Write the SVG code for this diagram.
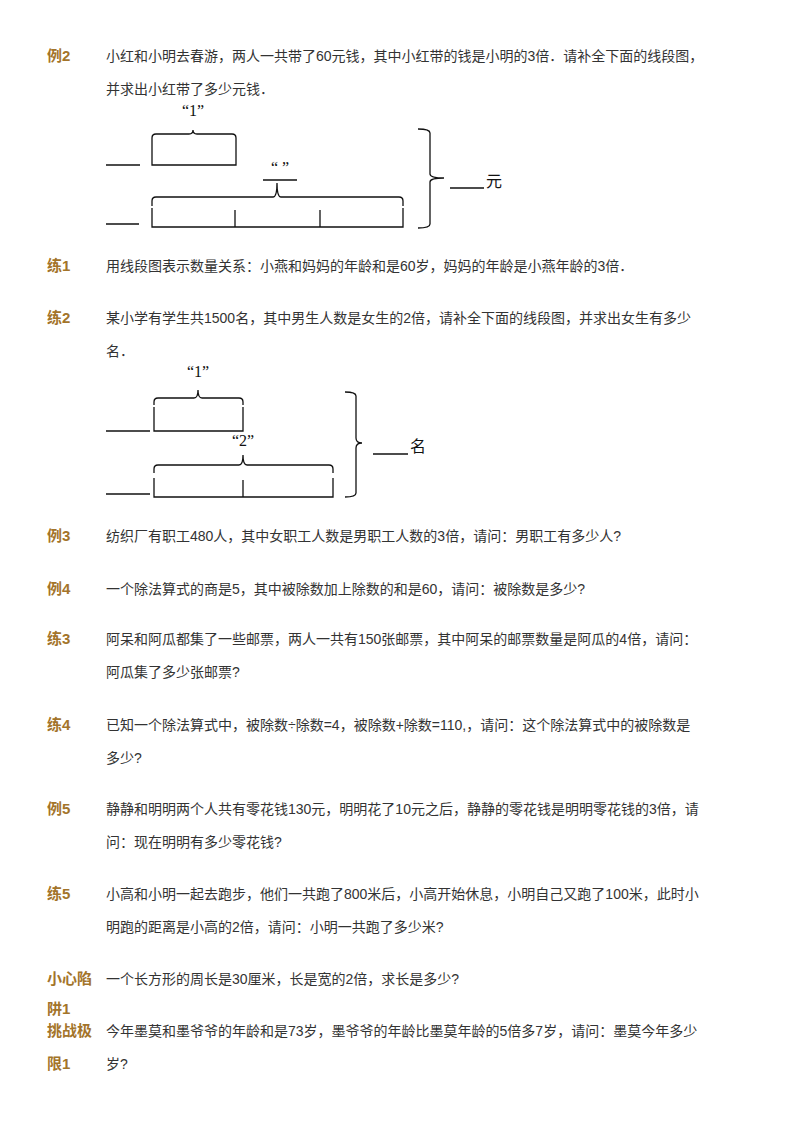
<svg xmlns="http://www.w3.org/2000/svg" width="800" height="1133" viewBox="0 0 800 1133">
<style>
.l{font-family:"Liberation Sans","Noto Sans CJK SC",sans-serif;font-size:15px;font-weight:bold;fill:#a3742a}
.t{font-family:"Liberation Sans","Noto Sans CJK SC",sans-serif;font-size:14px;fill:#333}
.s{font-family:"Liberation Serif","Noto Sans CJK SC",serif;font-size:16px;fill:#111}
.k{fill:none;stroke:#111;stroke-width:1.3}
</style>
<rect width="800" height="1133" fill="#fff"/>
<g id="texts">
<text class="l" x="47" y="61">例2</text>
<text class="t" x="106" y="61">小红和小明去春游，两人一共带了60元钱，其中小红带的钱是小明的3倍．请补全下面的线段图，</text>
<text class="t" x="106" y="94">并求出小红带了多少元钱．</text>
<text class="l" x="47" y="271">练1</text>
<text class="t" x="106" y="271">用线段图表示数量关系：小燕和妈妈的年龄和是60岁，妈妈的年龄是小燕年龄的3倍．</text>
<text class="l" x="47" y="323">练2</text>
<text class="t" x="106" y="323">某小学有学生共1500名，其中男生人数是女生的2倍，请补全下面的线段图，并求出女生有多少</text>
<text class="t" x="106" y="356">名．</text>
<text class="l" x="47" y="541">例3</text>
<text class="t" x="106" y="541">纺织厂有职工480人，其中女职工人数是男职工人数的3倍，请问：男职工有多少人?</text>
<text class="l" x="47" y="594">例4</text>
<text class="t" x="106" y="594">一个除法算式的商是5，其中被除数加上除数的和是60，请问：被除数是多少?</text>
<text class="l" x="47" y="644">练3</text>
<text class="t" x="106" y="644">阿呆和阿瓜都集了一些邮票，两人一共有150张邮票，其中阿呆的邮票数量是阿瓜的4倍，请问：</text>
<text class="t" x="106" y="677">阿瓜集了多少张邮票?</text>
<text class="l" x="47" y="730">练4</text>
<text class="t" x="106" y="730">已知一个除法算式中，被除数÷除数=4，被除数+除数=110,，请问：这个除法算式中的被除数是</text>
<text class="t" x="106" y="763">多少?</text>
<text class="l" x="47" y="814">例5</text>
<text class="t" x="106" y="814">静静和明明两个人共有零花钱130元，明明花了10元之后，静静的零花钱是明明零花钱的3倍，请</text>
<text class="t" x="106" y="847">问：现在明明有多少零花钱?</text>
<text class="l" x="47" y="899">练5</text>
<text class="t" x="106" y="899">小高和小明一起去跑步，他们一共跑了800米后，小高开始休息，小明自己又跑了100米，此时小</text>
<text class="t" x="106" y="932">明跑的距离是小高的2倍，请问：小明一共跑了多少米?</text>
<text class="l" x="47" y="984">小心陷</text>
<text class="l" x="47" y="1014">阱1</text>
<text class="t" x="106" y="984">一个长方形的周长是30厘米，长是宽的2倍，求长是多少?</text>
<text class="l" x="47" y="1036">挑战极</text>
<text class="l" x="47" y="1069">限1</text>
<text class="t" x="106" y="1036">今年墨莫和墨爷爷的年龄和是73岁，墨爷爷的年龄比墨莫年龄的5倍多7岁，请问：墨莫今年多少</text>
<text class="t" x="106" y="1069">岁?</text>
</g>
<g id="diagram1">
<text class="s" x="193" y="116" text-anchor="middle">“1”</text>
<path class="k" d="M106 165H140"/>
<path class="k" d="M152 143V165H236V143"/>
<path class="k" d="M152 143V138Q152 134 156 134H189Q193 134 193 130Q193 134 197 134H232Q236 134 236 138V143"/>
<text class="s" x="280" y="173" text-anchor="middle">“      ”</text>
<path class="k" d="M263 180H297"/>
<path class="k" d="M152 201Q152 197 156 197H273Q277 197 277 183Q277 197 281 197H399Q403 197 403 201V206"/>
<path class="k" d="M152 201V206"/>
<path class="k" d="M152 208V227H403V208M235 210V227M320 210V227"/>
<path class="k" d="M106 224H139"/>
<path class="k" d="M418 129Q430 129 430 133V174Q430 178 444 178Q430 178 430 182V224Q430 228 418 228"/>
<path class="k" d="M450 188H484"/>
<text class="s" x="486" y="187">元</text>
</g>
<g id="diagram2">
<text class="s" x="198" y="377" text-anchor="middle">“1”</text>
<path class="k" d="M154 405V402Q154 398 158 398H194Q198 398 198 390Q198 398 202 398H239Q243 398 243 402V405"/>
<path class="k" d="M154 407V431H243V407"/>
<path class="k" d="M106 431H150"/>
<text class="s" x="243" y="446" text-anchor="middle">“2”</text>
<path class="k" d="M154 473V469Q154 465 158 465H239Q243 465 243 455Q243 465 247 465H329Q333 465 333 469V473"/>
<path class="k" d="M154 478V497H333V478M243 480V497"/>
<path class="k" d="M106 494H150"/>
<path class="k" d="M345 392Q356 392 356 396V438Q356 443 362 443Q356 443 356 448V493Q356 497 345 497"/>
<path class="k" d="M373 454H408"/>
<text class="s" x="410" y="452">名</text>
</g>
</svg>
